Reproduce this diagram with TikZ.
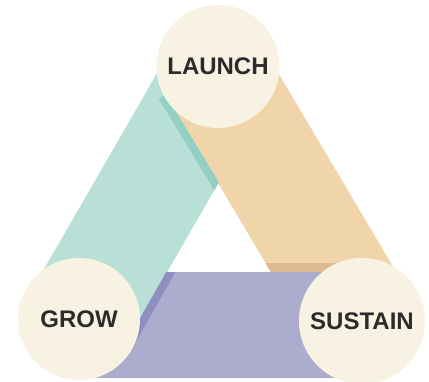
\documentclass[tikz,border=0pt]{standalone}
\usepackage{fontspec}
\setsansfont{Liberation Sans}
\usepackage{xcolor}
\usepackage{tikz}
\usetikzlibrary{positioning,calc}

\definecolor{creamfill}{HTML}{F8F2E3}
\definecolor{tealband}{HTML}{B8E0D7}
\definecolor{tealshade}{HTML}{93D0C3}
\definecolor{orangeband}{HTML}{F0D5AA}
\definecolor{orangeshade}{HTML}{DDBC92}
\definecolor{purpleband}{HTML}{ACACCF}
\definecolor{purpleshade}{HTML}{8F8EBF}
\definecolor{labeltext}{HTML}{2B2B2B}

\begin{document}
\begin{tikzpicture}[
  x=1pt, y=-1pt,
  stage/.style={circle, fill=creamfill, inner sep=0pt, text=labeltext, font=\sffamily\bfseries\fontsize{24}{28}\selectfont}
]
  \useasboundingbox (0,0) rectangle (429,381);

  % band corners
  \coordinate (g1) at (30.2,293);  \coordinate (g2) at (123.8,347);
  \coordinate (g3) at (269.8,94);  \coordinate (g4) at (176.2,40);
  \coordinate (o1) at (258.4,39.5); \coordinate (o2) at (165.6,94.5);
  \coordinate (o3) at (315.6,347.5); \coordinate (o4) at (408.4,292.5);
  \coordinate (p1) at (79,272);   \coordinate (p2) at (362,272);
  \coordinate (p3) at (362,378);  \coordinate (p4) at (79,378);

  \fill[purpleband] (p1) -- (p2) -- (p3) -- (p4) -- cycle;
  \fill[tealband] (g1) -- (g2) -- (g3) -- (g4) -- cycle;
  \fill[orangeband] (o1) -- (o2) -- (o3) -- (o4) -- cycle;
  \begin{scope}
    \clip (250,250) rectangle (440,400);
    \fill[purpleband] (p1) -- (p2) -- (p3) -- (p4) -- cycle;
  \end{scope}

  % shadows
  \begin{scope}
    \clip (g1) -- (g2) -- (g3) -- (g4) -- cycle;
    \fill[tealshade] (o2) -- (229.5,200) -- (220.2,200) -- ($(o2)+(-6.9,4.1)$) -- cycle;
  \end{scope}
  \begin{scope}
    \clip (p1) -- (p2) -- (p3) -- (p4) -- cycle;
    \fill[purpleshade] (173,260) -- (182.2,260) -- ($(g2)+(6.9,4)$) -- (g2) -- cycle;
  \end{scope}
  \begin{scope}
    \clip (o1) -- (o2) -- (o3) -- (o4) -- cycle;
    \fill[orangeshade] (200,263) rectangle (p2);
  \end{scope}

  \node[stage, minimum size=123pt] (launch) at (218,66.5) {LAUNCH};
  \node[stage, minimum size=122pt] (grow) at (79,319) {GROW};
  \node[stage, minimum size=126pt] (sustain) at (362,321) {SUSTAIN};
\end{tikzpicture}
\end{document}
